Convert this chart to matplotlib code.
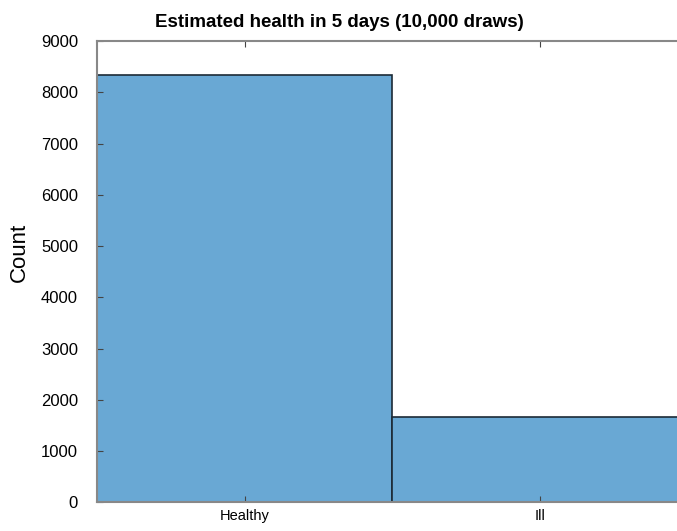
import numpy as np
from matplotlib import pyplot as plt

plt.rcParams['font.family'] = ['Liberation Sans', 'DejaVu Sans']

categories = ["Healthy", "Ill"]
counts = [8330, 1670]
y_ticks = [0, 1000, 2000, 3000, 4000, 5000, 6000, 7000, 8000, 9000]

fig = plt.figure(figsize=(6.77, 5.31), dpi=100)
# axes runs past the right edge, like the cropped original
ax = fig.add_axes([0.144, 0.0537, 0.8715, 0.869])

x = np.arange(len(categories))
ax.bar(x, counts, width=1.0, color="#69a8d4", edgecolor="#1c2a36", linewidth=1.2)

ax.set_xlim(-0.5, 1.5)
ax.set_ylim(0, 9000)
ax.set_xticks(x)
ax.set_xticklabels(categories, fontsize=10.5)
ax.set_yticks(y_ticks)
ax.set_yticklabels([str(v) for v in y_ticks], fontsize=12)
ax.tick_params(direction="in", length=4, color="#444444", top=True, right=True)
ax.tick_params(axis="y", pad=14)
ax.tick_params(axis="x", pad=5)
for s in ax.spines.values():
	s.set_color("#888888")
	s.set_linewidth(1.5)

ax.set_ylabel("Count", fontsize=16)
ax.yaxis.set_label_coords(-0.115, 0.543)
ax.set_title("Estimated health in 5 days (10,000 draws)", fontsize=13.5, fontweight="bold", pad=10, x=0.41)

plt.savefig("out.png", dpi=100)
